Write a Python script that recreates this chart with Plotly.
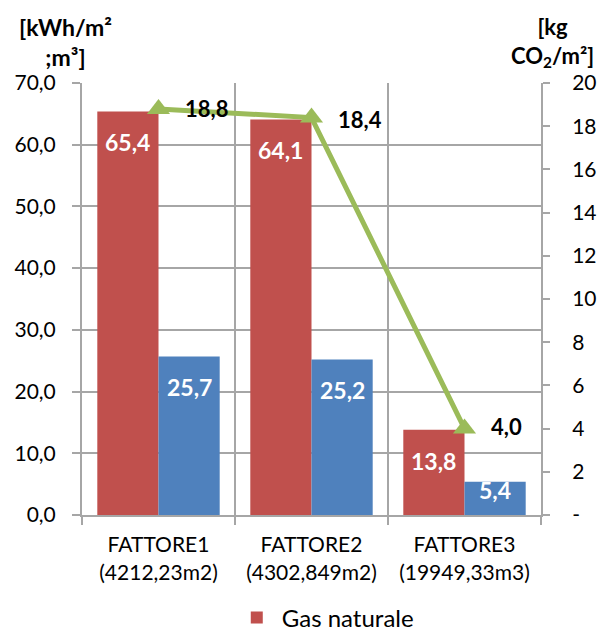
import plotly.graph_objects as go

categories = ["FATTORE1<br>(4212,23m2)", "FATTORE2<br>(4302,849m2)", "FATTORE3<br>(19949,33m3)"]
gas_values = [65.4, 64.1, 13.8]
blue_values = [25.7, 25.2, 5.4]
co2_values = [18.8, 18.4, 4.0]
left_ticks = [0, 10, 20, 30, 40, 50, 60, 70]
left_ticktext = ["0,0", "10,0", "20,0", "30,0", "40,0", "50,0", "60,0", "70,0"]
right_ticks = [0, 2, 4, 6, 8, 10, 12, 14, 16, 18, 20]
right_ticktext = ["-", "2", "4", "6", "8", "10", "12", "14", "16", "18", "20"]

RED = "#C0504D"
BLUE = "#4F81BD"
GREEN = "#9BBB59"
GRID = "#A6A6A6"
FONT = "Lato"

def fmt(v):
    return f"{v:.1f}".replace(".", ",")

fig = go.Figure()
fig.add_trace(go.Bar(x=categories, y=gas_values, name="Gas naturale",
                     marker=dict(color=RED, line=dict(width=0)), yaxis="y"))
fig.add_trace(go.Bar(x=categories, y=blue_values, name="",
                     marker=dict(color=BLUE, line=dict(width=0)), yaxis="y",
                     showlegend=False))
fig.add_trace(go.Scatter(x=categories, y=co2_values, yaxis="y2", mode="lines+markers",
                         line=dict(color=GREEN, width=5),
                         marker=dict(symbol="triangle-up", size=20, color=GREEN),
                         showlegend=False))

annotations = []
bar_px_per_unit = 432 / 70
for i, (g, b) in enumerate(zip(gas_values, blue_values)):
    for v, off in ((g, -0.2), (b, 0.2)):
        shift = -min(31, max(8, v * bar_px_per_unit - 25))
        annotations.append(dict(x=i + off, y=v, xref="x", yref="y", text=f"<b>{fmt(v)}</b>",
                                showarrow=False, yshift=shift,
                                font=dict(family=FONT, size=23, color="white")))
for i, v in enumerate(co2_values):
    annotations.append(dict(x=i, y=v, xref="x", yref="y2", text=f"<b>{fmt(v)}</b>",
                            showarrow=False, xanchor="left", xshift=24,
                            yshift=-2 if i == 1 else (0 if i == 0 else 2),
                            font=dict(family=FONT, size=22, color="black")))
annotations.append(dict(x=-0.037, y=1, xref="paper", yref="paper", xanchor="center", yanchor="bottom",
                        yshift=10, text="<b>[kWh/m²<br>;m³]</b>", showarrow=False, align="center",
                        font=dict(family=FONT, size=23, color="black")))
annotations.append(dict(x=1.026, y=1, xref="paper", yref="paper", xanchor="center", yanchor="bottom",
                        yshift=10, text="<b>[kg<br>CO<sub>2</sub>/m²]</b>", showarrow=False, align="center",
                        font=dict(family=FONT, size=22, color="black")))

fig.update_layout(
    width=599, height=633,
    margin=dict(l=82, r=58, t=83, b=118, autoexpand=False),
    paper_bgcolor="white", plot_bgcolor="white",
    barmode="group", bargap=0.2, bargroupgap=0,
    font=dict(family=FONT, size=20, color="black"),
    xaxis=dict(type="category", tickson="boundaries", ticks="outside", ticklen=8,
               tickcolor=GRID, tickwidth=2, automargin=False, ticklabelstandoff=10,
               showgrid=True, gridcolor=GRID, gridwidth=1.5,
               showline=True, linecolor=GRID, linewidth=2,
               tickfont=dict(family=FONT, size=21)),
    yaxis=dict(range=[0, 70], tickvals=left_ticks, ticktext=left_ticktext,
               ticks="outside", ticklen=8, tickcolor=GRID, tickwidth=2,
               automargin=False, ticklabelstandoff=12,
               showgrid=True, gridcolor=GRID, gridwidth=1.5,
               showline=True, linecolor=GRID, linewidth=2, zeroline=False,
               tickfont=dict(family=FONT, size=21)),
    yaxis2=dict(range=[0, 20], tickvals=right_ticks, ticktext=right_ticktext,
                overlaying="y", side="right", showgrid=False, zeroline=False,
                ticks="outside", ticklen=7, tickcolor=GRID, tickwidth=2,
                automargin=False, ticklabelstandoff=18,
                showline=True, linecolor=GRID, linewidth=2,
                tickfont=dict(family=FONT, size=21)),
    legend=dict(orientation="h", x=0.53, xanchor="center", y=-0.238, yanchor="middle",
                font=dict(family=FONT, size=24), itemwidth=40),
    annotations=annotations,
)

fig.write_html("out.html", config={"displayModeBar": False},
               post_script="document.body.style.margin='0';document.body.style.overflow='hidden';")
